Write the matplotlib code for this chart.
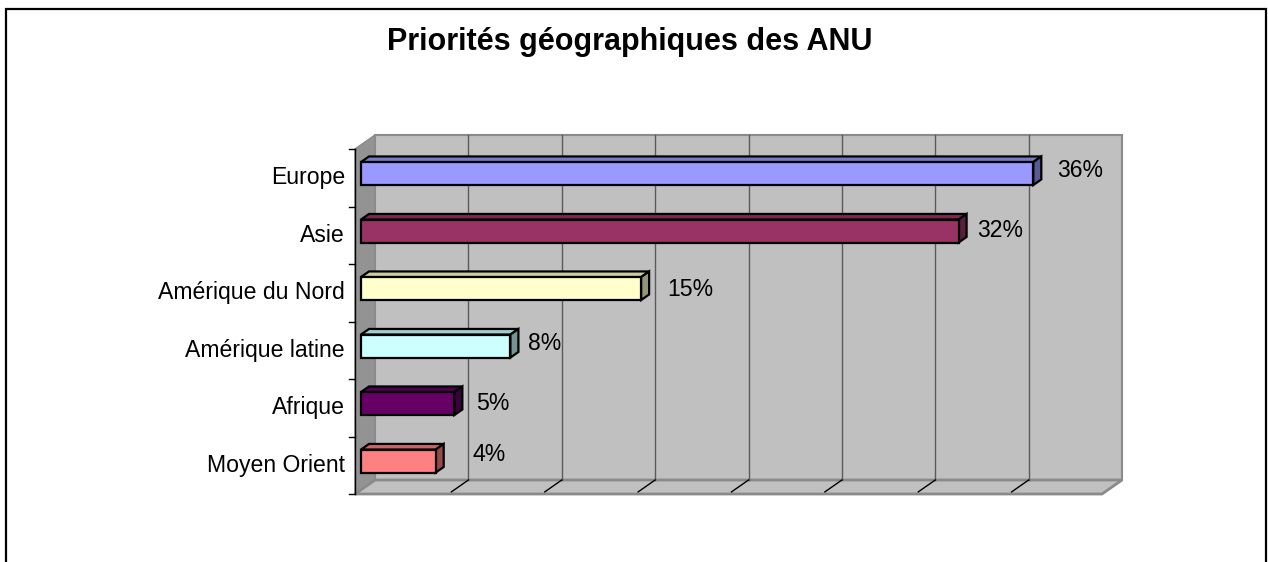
import matplotlib
matplotlib.use("Agg")
import matplotlib.pyplot as plt
import matplotlib.colors as mcolors
from matplotlib.patches import Polygon, Rectangle

plt.rcParams['font.family'] = ['Liberation Sans', 'DejaVu Sans']

# data (bottom to top)
regions = ['Moyen Orient', 'Afrique', 'Amérique latine', 'Amérique du Nord', 'Asie', 'Europe']
values = [4, 5, 8, 15, 32, 36]
labels = ['4%', '5%', '8%', '15%', '32%', '36%']
colors = ['#FF8080', '#660066', '#CCFFFF', '#FFFFCC', '#993366', '#9999FF']
label_nudge = [29, 14, 10, 18, 11, 16]   # px right of bar end
label_lift = [0.5, -6, -3.5, -7, -5.5, -3]  # px up

xmax = 40
xticks = list(range(0, 45, 5))

W, H = 1268, 562
fig = plt.figure(figsize=(W / 100, H / 100), dpi=100)

# back wall of the 3d box, in pixels
L, R, T, B = 375, 1122, 135, 480
ax = fig.add_axes([L / W, 1 - B / H, (R - L) / W, (B - T) / H])
ax.set_xlim(0, xmax)
ax.set_ylim(-0.5, len(regions) - 0.5)
ax.axis('off')

px_x = (R - L) / xmax
px_y = (B - T) / len(regions)
DX = 20 / px_x   # depth shift, data units
DY = 14 / px_y


def p(x, y, d):
    # d = 1 on back wall, d = 0 on front plane
    return (x - (1 - d) * DX, y - (1 - d) * DY)


def poly(pts, fc, ec, lw, z):
    ax.add_patch(Polygon(pts, closed=True, facecolor=fc, edgecolor=ec,
                         linewidth=lw, zorder=z, clip_on=False, joinstyle='miter'))


ylo, yhi = -0.5, len(regions) - 0.5
gray = '#C0C0C0'

# walls and floor
poly([p(0, ylo, 1), p(xmax, ylo, 1), p(xmax, yhi, 1), p(0, yhi, 1)], gray, '#8a8a8a', 1.5, 1)
poly([p(0, ylo, 1), p(0, yhi, 1), p(0, yhi, 0), p(0, ylo, 0)], '#939393', '#8a8a8a', 1.0, 1)
poly([p(0, ylo, 1), p(xmax, ylo, 1), p(xmax, ylo, 0), p(0, ylo, 0)], gray, '#8a8a8a', 2.0, 2)

for xt in xticks[1:-1]:
    ax.plot([xt, xt], [ylo, yhi], color='#5a5a5a', lw=1, zorder=2, clip_on=False)
    a, b = p(xt, ylo, 1), p(xt, ylo, 0.15)
    ax.plot([a[0], b[0]], [a[1], b[1]], color='black', lw=1, zorder=3, clip_on=False)

# category axis on the front edge
a, b = p(0, ylo, 0), p(0, yhi, 0)
ax.plot([a[0], b[0]], [a[1], b[1]], color='black', lw=1, zorder=3, clip_on=False)
for k in range(len(regions) + 1):
    yy = ylo + k
    q = p(0, yy, 0)
    ax.plot([q[0] - 6 / px_x, q[0]], [q[1], q[1]], color='black', lw=1, zorder=3, clip_on=False)

# bars
h = 0.2
d0, d1 = 0.3, 0.7
for i, (v, c) in enumerate(zip(values, colors)):
    rgb = mcolors.to_rgb(c)
    top = tuple(ch * 0.8 for ch in rgb)
    side = tuple(ch * 0.58 for ch in rgb)
    poly([p(0, i + h, d0), p(v, i + h, d0), p(v, i + h, d1), p(0, i + h, d1)], top, 'black', 1.6, 5)
    poly([p(v, i - h, d0), p(v, i + h, d0), p(v, i + h, d1), p(v, i - h, d1)], side, 'black', 1.6, 5)
    poly([p(0, i - h, d0), p(v, i - h, d0), p(v, i + h, d0), p(0, i + h, d0)], c, 'black', 1.6, 6)
    ax.annotate(labels[i], xy=p(v, i, d1), xytext=(label_nudge[i] * 0.72, label_lift[i] * 0.72),
                textcoords='offset points', ha='left', va='center', fontsize=16.6,
                zorder=7, annotation_clip=False)
    ax.annotate(regions[i], xy=p(0, i, 0), xytext=(-10 * 0.72, 0),
                textcoords='offset points', ha='right', va='center', fontsize=16.6,
                annotation_clip=False)

fig.text(629.5 / W, 1 - 42 / H, 'Priorités géographiques des ANU',
         ha='center', va='center', fontsize=22, fontweight='bold')

# chart area frame
fig.add_artist(Rectangle((6 / W, -0.05), (1265.5 - 6) / W, 1.05 - 9 / H,
                         transform=fig.transFigure, fill=False, edgecolor='black',
                         linewidth=1.6))

fig.savefig('out.png', dpi=100)
